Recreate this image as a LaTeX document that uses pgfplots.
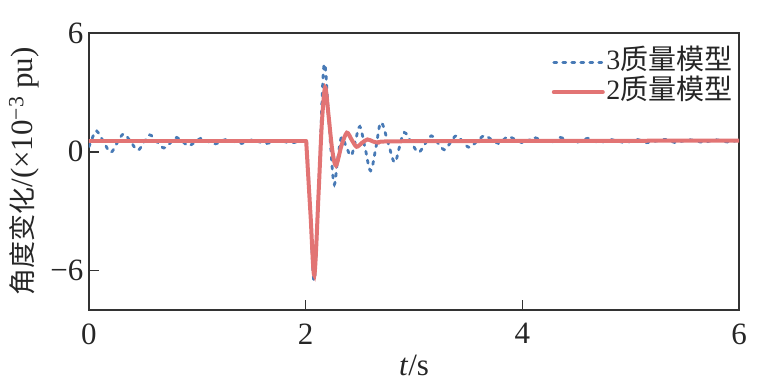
\documentclass[border=0pt]{standalone}
\usepackage{fontspec}
\setmainfont{Liberation Serif}
\newfontfamily\cjk{Noto Sans CJK SC}
\usepackage{pgfplots}
\pgfplotsset{compat=1.18}
\definecolor{bluec}{RGB}{72,122,182}
\definecolor{redc}{RGB}{226,116,116}
\begin{document}
\begin{tikzpicture}
\useasboundingbox (-89pt,-75pt) rectangle (669pt,310pt);
\begin{axis}[
  scale only axis, width=650pt, height=277pt,
  xmin=0, xmax=6, ymin=-8, ymax=6,
  xtick={0,2,4,6}, xticklabels={0,2,4,6},
  ytick={-6,0,6}, yticklabels={−6,0,6},
  tick align=inside, tick pos=left, major tick length=10pt,
  axis line style={line width=1.6pt, black!80},
  every tick/.style={line width=1.6pt, black!80},
  tick label style={font=\fontsize{31}{34}\selectfont, black!85},
  xticklabel style={yshift=-10pt},
  yticklabel style={xshift=-2pt},
  xlabel={\textit{t}/s},
  xlabel style={font=\fontsize{31}{34}\selectfont, black!85, at={(axis description cs:0.5,0)}, anchor=center, yshift=-55pt},
  ylabel={{\fontsize{27}{30}\selectfont\cjk 角度变化}/(×10\textsuperscript{−3} pu)},
  ylabel style={font=\fontsize{31}{34}\selectfont, black!85, at={(axis description cs:-0.10,0.5)}, anchor=center},
  legend cell align=left,
  legend style={at={(1,1)}, anchor=north east, xshift=-5pt, yshift=-14pt, draw=none, fill=none,
    font=\fontsize{28}{28}\selectfont, inner sep=0pt, row sep=0pt,
    nodes={inner ysep=0pt, inner xsep=1.5pt, text height=22pt, text depth=8pt, text=black!85}},
  legend image code/.code={\draw[#1] (0pt,0pt) -- (49pt,0pt);},
]
\addplot[bluec, line width=2.8pt, line cap=round, dash pattern=on 3pt off 6pt, smooth, tension=0.6] coordinates {
(0.00,0.25)(0.035,0.75)(0.07,1.05)(0.135,0.50)(0.20,-0.03)(0.26,0.45)(0.32,0.90)(0.385,0.50)
(0.45,0.08)(0.505,0.46)(0.56,0.85)(0.625,0.52)(0.69,0.19)(0.75,0.45)(0.81,0.72)(0.865,0.51)
(0.92,0.30)(0.975,0.48)(1.03,0.67)(1.095,0.53)(1.16,0.39)(1.21,0.50)(1.26,0.61)(1.335,0.52)
(1.41,0.42)(1.455,0.50)(1.50,0.59)(1.57,0.50)(1.64,0.42)(1.695,0.50)(1.75,0.57)(1.805,0.51)
(1.86,0.45)(1.93,0.50)(1.99,0.54)(2.01,0.35)(2.045,-3.2)(2.08,-6.5)(2.125,-1.2)(2.17,4.4)
(2.215,1.5)(2.26,-1.6)(2.295,-0.4)(2.33,0.72)(2.375,0.25)(2.42,-0.2)(2.46,0.55)(2.50,1.27)
(2.55,0.15)(2.60,-0.96)(2.65,0.26)(2.695,1.48)(2.76,0.47)(2.82,-0.54)(2.865,0.22)(2.91,0.97)
(2.975,0.47)(3.04,-0.03)(3.10,0.38)(3.16,0.80)(3.22,0.45)(3.28,0.10)(3.335,0.45)(3.39,0.81)
(3.45,0.51)(3.51,0.22)(3.58,0.52)(3.65,0.81)(3.715,0.61)(3.78,0.42)(3.825,0.59)(3.87,0.76)
(3.945,0.59)(4.02,0.42)(4.06,0.57)(4.10,0.72)(4.18,0.59)(4.26,0.47)(4.305,0.59)(4.35,0.72)
(4.42,0.59)(4.49,0.46)(4.55,0.58)(4.61,0.68)(4.66,0.56)(4.71,0.46)(4.76,0.53)(4.81,0.62)
(4.885,0.53)(4.96,0.46)(5.01,0.54)(5.06,0.62)(5.105,0.54)(5.15,0.46)(5.235,0.54)(5.32,0.62)
(5.365,0.54)(5.41,0.46)(5.48,0.54)(5.55,0.60)(5.61,0.54)(5.67,0.47)(5.73,0.54)(5.79,0.60)
(5.85,0.54)(5.91,0.48)(5.96,0.54)(6.00,0.58)
};
\addlegendentry{3{\cjk 质量模型}}
\addplot[redc, line width=4pt, line cap=round, forget plot] coordinates {
(0,0.52)(2.005,0.52)
};
\addplot[redc, line width=4pt, line cap=round, smooth, tension=0.5] coordinates {
(2.005,0.52)(2.045,-3.2)(2.08,-6.25)(2.12,-2.0)(2.15,1.5)(2.18,3.25)
(2.21,1.9)(2.245,0.1)(2.28,-0.7)(2.33,0.3)(2.38,0.96)(2.425,0.6)(2.47,0.25)(2.52,0.45)
(2.57,0.62)(2.62,0.52)(2.67,0.46)(2.75,0.52)(3.5,0.54)(6,0.56)
};
\addlegendentry{2{\cjk 质量模型}}
\end{axis}
\end{tikzpicture}
\end{document}
